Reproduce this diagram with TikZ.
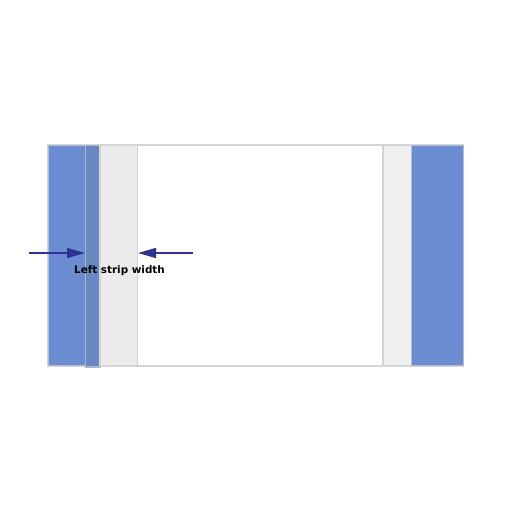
\documentclass[tikz,border=0pt]{standalone}
\usepackage{fontspec}
\setmainfont{DejaVu Sans}
\usetikzlibrary{arrows.meta}
\definecolor{bandblue}{HTML}{6A8CD0}
\definecolor{stripblue}{HTML}{6A88C0}
\definecolor{lgrey}{HTML}{EBEBEB}
\definecolor{rgrey}{HTML}{F0F0F0}
\definecolor{edge}{HTML}{D4D4D4}
\definecolor{navy}{HTML}{2E3192}
\tikzset{
  panel/.style={draw=edge, line width=0.9pt},
  dimarrow/.style={draw=navy, line width=1.2pt, -{Triangle[length=13.5pt,width=7.5pt]}},
  lbl/.style={font=\bfseries\fontsize{7.8}{9}\selectfont, text=black, inner sep=0pt}
}
\begin{document}
\begin{tikzpicture}[x=0.75pt,y=-0.75pt]
\useasboundingbox (0,0) rectangle (512,512);
% outer frame and white middle
\fill[white] (48,145) rectangle (463,366);
\draw[panel] (48,145) rectangle (463,366);
% left blue band
\fill[bandblue] (48.5,145.5) rectangle (85.5,365.5);
\draw[draw=edge!70!bandblue, line width=0.6pt] (48.5,145.5) rectangle (85.5,365.5);
% left strip (dark)
\draw[panel, fill=stripblue, draw=edge!60!stripblue] (85.5,145.5) rectangle (100,367);
% left grey
\draw[panel, fill=lgrey] (100,145.5) rectangle (137.5,366);
% right grey
\draw[panel, fill=rgrey] (383,145.5) rectangle (411.5,366);
% right blue
\fill[bandblue] (411.5,145.5) rectangle (463,365.5);
\draw[draw=edge!70!bandblue, line width=0.6pt] (411.5,145.5) rectangle (463,365.5);
% dimension arrows
\coordinate (la) at (29,253);
\coordinate (lb) at (85,253);
\coordinate (ra) at (193,253);
\coordinate (rb) at (138,253);
\draw[dimarrow] (la) -- (lb);
\draw[dimarrow] (ra) -- (rb);
\node[lbl] (label) at (119.5,271) {Left strip width};
\end{tikzpicture}
\end{document}
